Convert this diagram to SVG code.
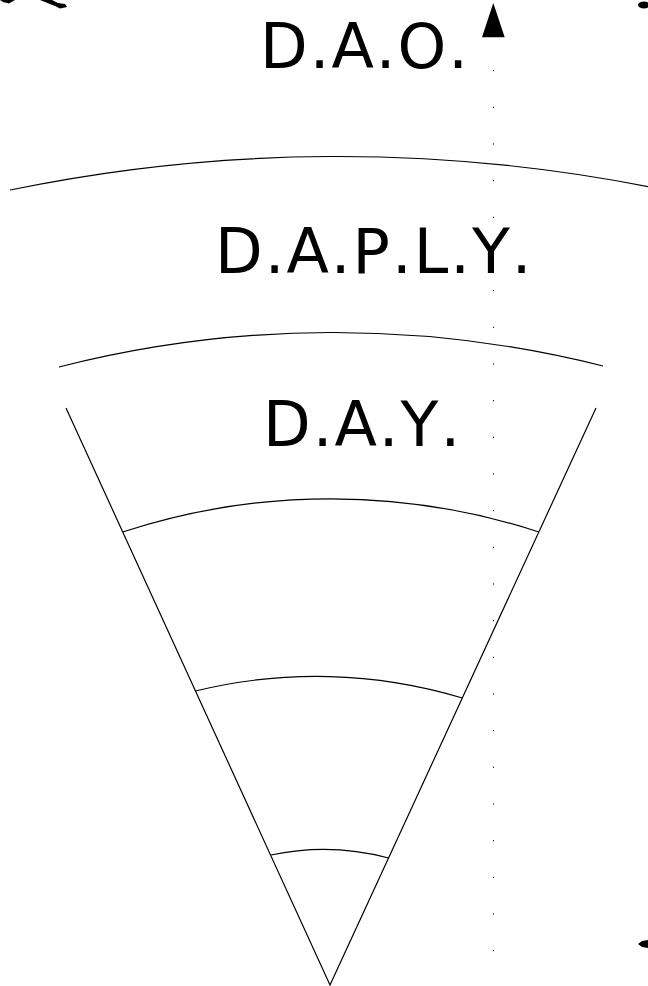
<svg xmlns="http://www.w3.org/2000/svg" width="648" height="986" viewBox="0 0 648 986">
<style>
.ln{fill:none;stroke:#000;stroke-width:1.2}
.lbl{font-family:"DejaVu Sans",sans-serif;font-size:62px;fill:#000;font-kerning:none;font-feature-settings:"kern" 0;letter-spacing:2px}
</style>
<rect width="648" height="986" fill="#fff"/>
<g id="fragments">
<path d="M0,0 L15,0 L9,3.5 L3,2 Z" fill="#000"/>
<path d="M40,0 L52,0 L58,3 L65,4 L67,7 L60,8.5 L55,6 Z" fill="#000"/>
<ellipse cx="644" cy="5" rx="6" ry="3.5" fill="#000"/>
<path d="M648,940 L642,941 L638,944 L642,947 L648,948 Z" fill="#000"/>
</g>
<g id="axis">
<line x1="493.5" y1="70" x2="493.5" y2="986" stroke="#000" stroke-width="1" stroke-dasharray="1.2 35.47"/>
<polygon points="493.3,3 482,37.3 504.7,37.3" fill="#000"/>
</g>
<g id="wedge">
<path class="ln" d="M66,408 L330,985 L596,408"/>
</g>
<g id="arcs">
<path class="ln" d="M10,190 A1616,1616 0 0 1 650,187"/>
<path class="ln" d="M59,367 A1105,1105 0 0 1 603,366"/>
<path class="ln" d="M122.7,532 A669,669 0 0 1 538.8,532"/>
<path class="ln" d="M195.5,691 A506,506 0 0 1 462.3,698"/>
<path class="ln" d="M271,855 A253,253 0 0 1 388.5,858"/>
</g>
<g id="labels">
<text class="lbl" x="260" y="68">D.A.O.</text>
<text class="lbl" x="215" y="273">D.A.P.L.Y.</text>
<text class="lbl" x="263" y="446">D.A.Y.</text>
</g>
</svg>
